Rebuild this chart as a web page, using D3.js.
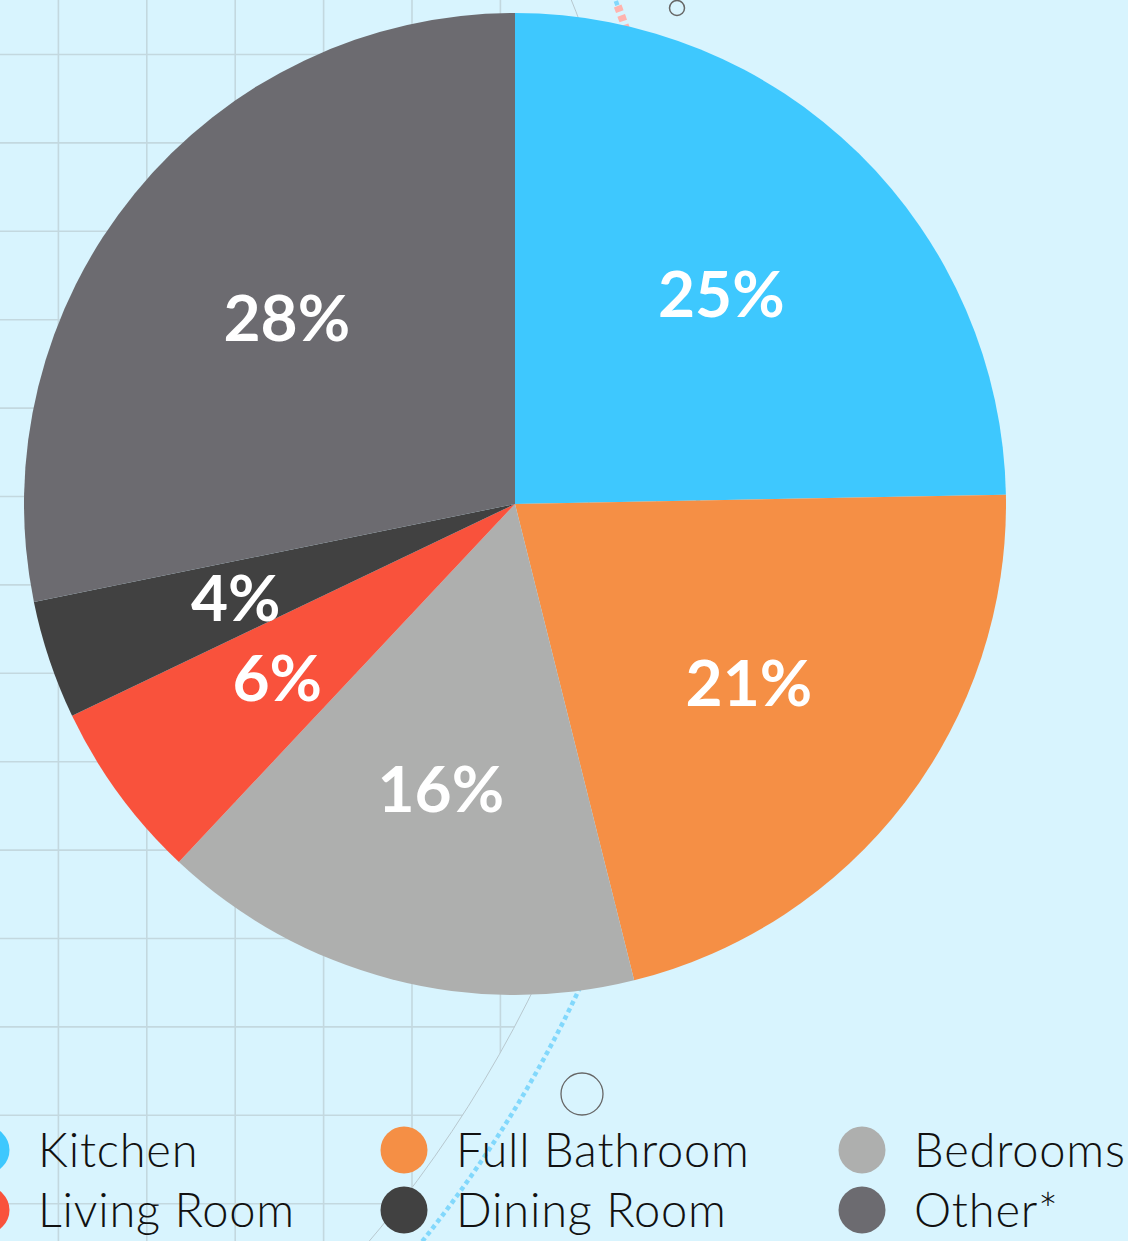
<!DOCTYPE html>
<meta charset="utf-8">
<style>
body { margin: 0; background: #d8f4fe; }
svg { display: block; }
.slice-label { font-family: Lato, sans-serif; font-weight: 700; fill: #fff; }
.legend text { font-family: Lato, sans-serif; font-weight: 300; fill: #111; }
</style>
<body>
<svg width="1128" height="1241"></svg>
<script src="https://d3js.org/d3.v7.min.js"></script>
<script>

// data
var rooms = ["Kitchen", "Full Bathroom", "Bedrooms", "Living Room", "Dining Room", "Other*"];
var shares = [24.7, 21.4, 15.9, 5.9, 3.9, 28.2];
var roomColors = ["#3ec8fe", "#f58f45", "#aeafae", "#f9523c", "#414141", "#6c6b70"];

var svg = d3.select("svg"),
    width = +svg.attr("width"),
    height = +svg.attr("height");

var cx = 515, cy = 504, radius = 491;

// background decoration: grid clipped to a big circle, arc lines, rings
var bigC = { x: -565, y: 452, r: 1223 };

svg.append("rect")
    .attr("width", width)
    .attr("height", height)
    .attr("fill", "#d8f4fe");

svg.append("clipPath")
    .attr("id", "bigclip")
  .append("circle")
    .attr("cx", bigC.x)
    .attr("cy", bigC.y)
    .attr("r", bigC.r);

var grid = svg.append("g")
    .attr("clip-path", "url(#bigclip)")
    .attr("stroke", "#c3d8df")
    .attr("stroke-width", 1.6);

var step = 88.4;
d3.range(-30, width, step).forEach(function(x) {
  grid.append("line").attr("x1", x).attr("x2", x).attr("y1", 0).attr("y2", height);
});
d3.range(54.5, height, step).forEach(function(y) {
  grid.append("line").attr("x1", 0).attr("x2", width).attr("y1", y).attr("y2", y);
});

svg.append("circle")
    .attr("cx", bigC.x)
    .attr("cy", bigC.y)
    .attr("r", bigC.r)
    .attr("fill", "none")
    .attr("stroke", "#b8c8cf")
    .attr("stroke-width", 1);

svg.append("circle")
    .attr("cx", bigC.x)
    .attr("cy", bigC.y)
    .attr("r", 1264)
    .attr("fill", "none")
    .attr("stroke", "#82d8fc")
    .attr("stroke-width", 4.5)
    .attr("stroke-dasharray", "4.5 3.5");

// pink dashed piece at the top of the dotted arc
var pinkPts = d3.range(6, 40, 2).map(function(y) {
  return [bigC.x + Math.sqrt(1264 * 1264 - (y - bigC.y) * (y - bigC.y)), y];
});
svg.append("path")
    .attr("d", d3.line()(pinkPts))
    .attr("fill", "none")
    .attr("stroke", "#d8f4fe")
    .attr("stroke-width", 7);
svg.append("path")
    .attr("d", d3.line()(pinkPts))
    .attr("fill", "none")
    .attr("stroke", "#ffb3ae")
    .attr("stroke-width", 8)
    .attr("stroke-dasharray", "6 4");

svg.append("circle")
    .attr("cx", 677).attr("cy", 8).attr("r", 7.5)
    .attr("fill", "none").attr("stroke", "#666").attr("stroke-width", 1.5);

svg.append("circle")
    .attr("cx", 582).attr("cy", 1094).attr("r", 21)
    .attr("fill", "none").attr("stroke", "#666").attr("stroke-width", 1.3);

// pie
var color = d3.scaleOrdinal().domain(rooms).range(roomColors);

var pie = d3.pie().sort(null).value(function(d) { return d.value; });

var table = rooms.map(function(r, i) { return { room: r, value: shares[i] }; });

var arc = d3.arc().innerRadius(0).outerRadius(radius);
var labelArc = d3.arc().innerRadius(radius * 0.6).outerRadius(radius * 0.6);

var g = svg.append("g")
    .attr("transform", "translate(" + cx + "," + cy + ")");

var arcs = g.selectAll(".slice")
  .data(pie(table))
  .enter().append("g")
    .attr("class", "slice");

arcs.append("path")
    .attr("d", arc)
    .attr("fill", function(d) { return color(d.data.room); });

arcs.append("text")
    .attr("class", "slice-label")
    .attr("transform", function(d) { return "translate(" + labelArc.centroid(d) + ")"; })
    .attr("text-anchor", "middle")
    .attr("dy", "0.36em")
    .attr("font-size", 64)
    .text(function(d) { return Math.round(d.data.value) + "%"; });

// legend
var colX = [-14, 404, 862], rowY = [1150, 1210];

var legend = svg.append("g")
    .attr("class", "legend")
  .selectAll("g")
  .data(rooms)
  .enter().append("g")
    .attr("transform", function(d, i) { return "translate(" + colX[i % 3] + "," + rowY[Math.floor(i / 3)] + ")"; });

legend.append("circle")
    .attr("r", 23.5)
    .attr("fill", function(d) { return color(d); });

legend.append("text")
    .attr("x", 52)
    .attr("y", 17)
    .attr("font-size", 47)
    .attr("letter-spacing", 0.8)
    .text(function(d) { return d; });

</script>
</body>
